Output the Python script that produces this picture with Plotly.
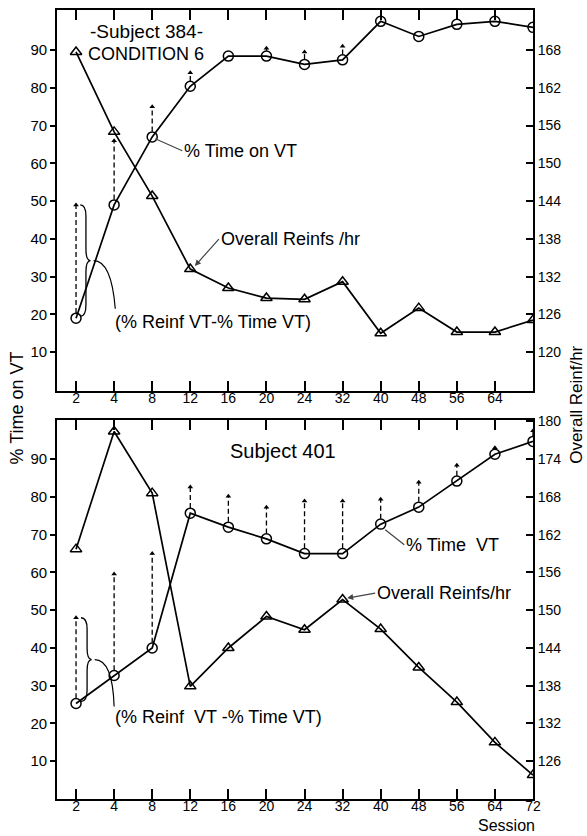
import plotly.graph_objects as go

# ---------------- data ----------------
sessions = ["2", "4", "8", "12", "16", "20", "24", "32", "40", "48", "56", "64", "72"]
top_tick_text = ["2", "4", "8", "12", "16", "20", "24", "32", "40", "48", "56", "64", ""]
bot_tick_text = sessions

# Subject 384 (top)
s384_time_vt = [19, 49, 67, 80.4, 88.4, 88.4, 86.2, 87.4, 97.6, 93.6, 96.8, 97.6, 96]
s384_reinfs_hr = [167.7, 155, 144.8, 133.2, 130.2, 128.6, 128.4, 131.2, 123, 127, 123.2, 123.2, 125.1]
s384_reinf_vt = [49, 66, 75, 84, None, 90.5, 89.5, 91, None, None, None, None, None]

# Subject 401 (bottom)
s401_time_vt = [25.3, 32.7, 40, 75.7, 72, 68.9, 65, 65, 72.8, 77.3, 84.2, 91.3, 94.7]
s401_reinfs_hr = [159.7, 178.4, 168.6, 137.9, 144, 149, 146.9, 151.7, 147, 140.9, 135.4, 129, 123.8]
s401_reinf_vt = [48, 59.6, 65, 82.6, 80.2, 77.3, 78.9, 78.9, 79.4, 83.9, 88.4, 93, 97.5]

left_ticks = [10, 20, 30, 40, 50, 60, 70, 80, 90]
top_right_ticks = [120, 126, 132, 138, 144, 150, 156, 162, 168]
bot_right_ticks = [126, 132, 138, 144, 150, 156, 162, 168, 174, 180]

FONT = "Liberation Sans"
idx = list(range(len(sessions)))

fig = go.Figure()

def add_panel(xa, ya, yr, time_vt, reinfs, reinf_vt):
    # dashed arrows (% Reinf VT)
    xs, ys, tx, ty = [], [], [], []
    for i, (a, b) in enumerate(zip(time_vt, reinf_vt)):
        if b is None:
            continue
        xs += [i, i, None]
        ys += [a + 1.4, b, None]
        tx.append(i)
        ty.append(b)
    fig.add_trace(go.Scatter(x=xs, y=ys, xaxis=xa, yaxis=ya, mode="lines",
                             line=dict(color="black", width=1.3, dash="5px,3px"),
                             showlegend=False, hoverinfo="skip"))
    fig.add_trace(go.Scatter(x=tx, y=ty, xaxis=xa, yaxis=ya, mode="markers",
                             marker=dict(symbol="triangle-up", size=5, color="black"),
                             showlegend=False, hoverinfo="skip"))
    # % time on VT
    fig.add_trace(go.Scatter(x=idx, y=time_vt, xaxis=xa, yaxis=ya, mode="lines+markers",
                             line=dict(color="black", width=1.7),
                             marker=dict(symbol="circle-open", size=10, color="black",
                                         line=dict(width=1.5, color="black")),
                             showlegend=False))
    # overall reinfs/hr
    fig.add_trace(go.Scatter(x=idx, y=reinfs, xaxis=xa, yaxis=yr, mode="lines+markers",
                             line=dict(color="black", width=1.7),
                             marker=dict(symbol="triangle-up-open", size=10, color="black",
                                         line=dict(width=1.5, color="black")),
                             showlegend=False))

add_panel("x", "y", "y2", s384_time_vt, s384_reinfs_hr, s384_reinf_vt)
add_panel("x2", "y3", "y4", s401_time_vt, s401_reinfs_hr, s401_reinf_vt)

# braces + leader curves
def brace(xref, yref, lo, hi, x_end, x_v, x_tip, lead_to):
    mid = (lo + hi) / 2
    e = 3
    path = (f"M {x_end},{lo} Q {x_v},{lo} {x_v},{lo+e} L {x_v},{mid-e} "
            f"Q {x_v},{mid} {x_tip},{mid} Q {x_v},{mid} {x_v},{mid+e} "
            f"L {x_v},{hi-e} Q {x_v},{hi} {x_end},{hi}")
    fig.add_shape(type="path", path=path, xref=xref, yref=yref,
                  line=dict(color="black", width=1.3))
    lx, ly = lead_to
    p2 = f"M {x_tip+0.08},{mid} Q {x_tip+0.55},{mid} {lx},{ly}"
    fig.add_shape(type="path", path=p2, xref=xref, yref=yref,
                  line=dict(color="black", width=1.2))

brace("x", "y", s384_time_vt[0] + 0.5, s384_reinf_vt[0], 0.11, 0.26, 0.38, (1.03, 21.5))
brace("x2", "y3", s401_time_vt[0] + 0.5, s401_reinf_vt[0], 0.13, 0.29, 0.41, (1.0, 24.5))

ann = []
tf = dict(family=FONT, size=18, color="black")
ann.append(dict(x=1.84, y=94.8, xref="x", yref="y", text="-Subject 384-", showarrow=False,
                font=dict(family=FONT, size=19, color="black")))
ann.append(dict(x=1.84, y=88.9, xref="x", yref="y", text="CONDITION 6", showarrow=False, font=tf))
ann.append(dict(x=2.08, y=66.5, xref="x", yref="y", text="% Time on VT", xanchor="left",
                showarrow=True, arrowhead=0, arrowwidth=1.2, ax=27, ay=12, font=tf))
ann.append(dict(x=3.12, y=32.8, xref="x", yref="y", text="Overall Reinfs /hr", xanchor="left",
                showarrow=True, arrowhead=2, arrowsize=1, arrowwidth=1.2, ax=24, ay=-27, font=tf))
ann.append(dict(x=0.97, y=17.9, xref="x", yref="y", text="(% Reinf VT-% Time VT)", xanchor="left",
                showarrow=False, font=tf))

ann.append(dict(x=5.44, y=92.1, xref="x2", yref="y3", text="Subject 401", showarrow=False,
                font=dict(family=FONT, size=20, color="black")))
ann.append(dict(x=8.12, y=71.3, xref="x2", yref="y3", text="% Time  VT", xanchor="left",
                showarrow=True, arrowhead=0, arrowwidth=1.2, ax=19, ay=15, font=tf))
ann.append(dict(x=7.12, y=53.2, xref="x2", yref="y3", text="Overall Reinfs/hr", xanchor="left",
                showarrow=True, arrowhead=2, arrowsize=1, arrowwidth=1.2, ax=28, ay=-5, font=tf))
ann.append(dict(x=0.97, y=21.6, xref="x2", yref="y3", text="(% Reinf  VT -% Time VT)", xanchor="left",
                showarrow=False, font=tf))

ann.append(dict(x=1.008, y=-0.033, xref="paper", yref="paper", text="Session", xanchor="right",
                yanchor="middle", showarrow=False, font=dict(family=FONT, size=16, color="black")))
ann.append(dict(x=-0.084, y=0.495, xref="paper", yref="paper", text="% Time on VT", textangle=-90,
                xanchor="center", yanchor="middle",
                showarrow=False, font=dict(family=FONT, size=18, color="black")))
ann.append(dict(x=1.091, y=0.5, xref="paper", yref="paper", text="Overall Reinf/hr", textangle=-90,
                xanchor="center", yanchor="middle",
                showarrow=False, font=dict(family=FONT, size=17, color="black")))

tickf = dict(family=FONT, size=14, color="black")
ytickf = dict(family=FONT, size=15, color="black")
xcommon = dict(range=[-0.5, 12], tickmode="array", tickvals=idx, showline=True, linecolor="black",
               linewidth=1.8, ticks="inside", ticklen=10, tickwidth=1.5, tickcolor="black",
               mirror="ticks", showgrid=False, zeroline=False, tickfont=tickf,
               ticklabelstandoff=-7, automargin=False)
yleft = dict(tickmode="array", tickvals=left_ticks, showline=True, linecolor="black", linewidth=1.8,
             ticks="outside", ticklen=5, tickwidth=1.5, tickcolor="black", showgrid=False,
             zeroline=False, tickfont=ytickf, automargin=False)
yright = dict(tickmode="array", showline=True, linecolor="black", linewidth=1.8, side="right",
              ticks="inside", ticklen=7, tickwidth=1.5, tickcolor="black", showgrid=False,
              zeroline=False, tickfont=tickf, automargin=False)

fig.update_layout(
    template="none",
    width=587, height=836,
    margin=dict(l=57, r=54, t=10, b=37, autoexpand=False),
    paper_bgcolor="white", plot_bgcolor="white",
    font=dict(family=FONT, color="black"),
    showlegend=False,
    xaxis=dict(domain=[0, 1], anchor="y", ticktext=top_tick_text, **xcommon),
    yaxis=dict(domain=[0.517, 1], anchor="x", range=[-0.3, 100.6], **yleft),
    yaxis2=dict(overlaying="y", anchor="x", range=[113.82, 174.36], tickvals=top_right_ticks, **yright),
    xaxis2=dict(domain=[0, 1], anchor="y3", ticktext=bot_tick_text, **xcommon),
    yaxis3=dict(domain=[0, 0.48], anchor="x2", range=[0, 100.3], **yleft),
    yaxis4=dict(overlaying="y3", anchor="x2", range=[120, 180.18], tickvals=bot_right_ticks, **yright),
    annotations=ann,
)

fig.write_html("out.html")
